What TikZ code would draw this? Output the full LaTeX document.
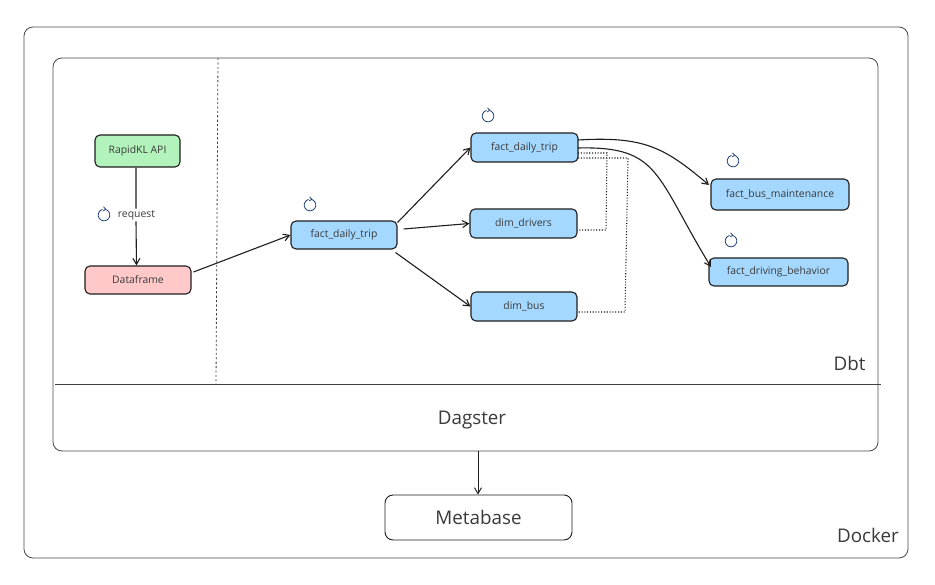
\documentclass[tikz,border=0pt]{standalone}
\usepackage{fontspec}
\setmainfont{Open Sans}
\usetikzlibrary{arrows.meta,calc}
\definecolor{ink}{HTML}{1E1E1E}
\definecolor{txt}{HTML}{3A3A3A}
\definecolor{loopc}{HTML}{1E3F78}
\tikzset{
  frame/.style={draw=ink!80,line width=0.8pt,rounded corners=9pt,fill=none},
  boxn/.style={draw=ink,line width=1.1pt,rounded corners=5pt,inner sep=0pt,text=txt,font=\fontsize{10.4}{11}\selectfont,anchor=center},
  greenb/.style={boxn,fill={rgb,255:red,178;green,242;blue,187}},
  pinkb/.style={boxn,fill={rgb,255:red,255;green,201;blue,201}},
  blueb/.style={boxn,fill={rgb,255:red,165;green,216;blue,255}},
  conn/.style={draw=ink,line width=1.1pt,-{Straight Barb[length=6pt,width=7pt]}},
  dotc/.style={draw=ink,line width=1.05pt,dash pattern=on 1.1pt off 1.7pt},
  bigt/.style={text=txt,font=\fontsize{18.8}{22}\selectfont,inner sep=0pt},
  loopn/.style={circle,minimum size=11.5pt,inner sep=0pt},
}
\newcommand{\looptick}[1]{%
  \draw[loopc,line width=0.8pt] ($(#1)+(1.5,-5.6)$) arc[start angle=75,end angle=-255,radius=5.8pt];
  \draw[loopc,line width=0.8pt,line cap=round] ($(#1)+(-0.3,-8)$) -- ($(#1)+(1.7,-5.7)$) -- ($(#1)+(-0.6,-4.2)$);}
\begin{document}
\begin{tikzpicture}[x=1pt,y=-1pt]
\useasboundingbox (0,0) rectangle (935,585);
\fill[white] (0,0) rectangle (935,585);
% frames
\node[frame,minimum width=884pt,minimum height=531pt,inner sep=0pt] (docker) at (466,292.5) {};
\node[frame,minimum width=825pt,minimum height=393pt,inner sep=0pt] (dbt) at (465.5,254.5) {};
\coordinate (sepL) at (55,384);
\coordinate (sepR) at (881,384);
\draw[ink!85,line width=0.8pt] (sepL) -- (sepR);
\coordinate (vT) at (218,58);
\coordinate (vB) at (216,384);
\draw[ink!85,line width=0.8pt,dash pattern=on 2.2pt off 2.2pt] (vT) -- (vB);
\node[bigt] (ldbt) at (849.5,363.5) {Dbt};
\node[bigt] (ldag) at (472,420) {Dagster};
\node[bigt] (ldock) at (868,535.5) {Docker};
\node[boxn,line width=0.9pt,minimum width=187pt,minimum height=45pt,font=\fontsize{18.8}{22}\selectfont,rounded corners=8pt] (meta) at (478.5,517.5) {Metabase};
% boxes
\node[greenb,minimum width=85pt,minimum height=32pt] (api) at (137.5,151) {RapidKL API};
\node[pinkb,minimum width=106pt,minimum height=28pt] (df) at (138,280) {Dataframe};
\node[blueb,minimum width=106pt,minimum height=28pt] (mid) at (344,235) {fact\_daily\_trip};
\node[blueb,minimum width=107pt,minimum height=29pt] (top) at (524.5,147.5) {fact\_daily\_trip};
\node[blueb,minimum width=107pt,minimum height=29pt] (drv) at (523.5,223.5) {dim\_drivers};
\node[blueb,minimum width=106pt,minimum height=29pt] (bus) at (524,306.5) {dim\_bus};
\node[blueb,minimum width=138pt,minimum height=31pt] (maint) at (780,194.5) {fact\_bus\_maintenance};
\node[blueb,minimum width=139pt,minimum height=28pt] (behav) at (778.5,272) {fact\_driving\_behavior};
% connectors
\node[fill=white,inner sep=1.5pt,text=txt,font=\fontsize{10.4}{11}\selectfont] (req) at (136.5,215) {request};
\draw[conn] (api.south) ++(-1.5,0) -- (req.north -| 136,204) (req.south -| 136,226) -- (df.north -| 136.5,263);
\draw[conn] (df.east) ++(2,-8) -- (mid.west);
\draw[conn] (mid.north east) ++(0,2) -- (top.west);
\draw[conn] (mid.east) ++(6,-6) -- (drv.west);
\draw[conn] (mid.south east) ++(-2,3) -- (bus.west);
\coordinate (t1) at (578,140);
\coordinate (t2) at (578,148);
\coordinate (t3) at (578,153);
\coordinate (t4) at (578,158);
\draw[conn] (t1) .. controls (645,136) and (665,148) .. (709,185);
\draw[conn] (t2) .. controls (660,146) and (655,175) .. (711,267);
\coordinate (d1) at (607,153);
\coordinate (d2) at (606,230);
\coordinate (b1) at (628,158);
\coordinate (b2) at (625,312);
\draw[dotc] (t3) -- (d1) -- (d2) -- (drv.east |- d2);
\draw[dotc] (t4) -- (b1) -- (b2) -- (bus.east |- b2);
% loop icons
\node[loopn] (l0) at (104,215) {};
\node[loopn] (l1) at (310,205) {};
\node[loopn] (l2) at (488,116) {};
\node[loopn] (l3) at (733,161) {};
\node[loopn] (l4) at (731,241) {};
\looptick{l0}\looptick{l1}\looptick{l2}\looptick{l3}\looptick{l4}
\draw[conn,line width=0.9pt] (dbt.south -| 478,453) -- (meta.north -| 478,495);
\end{tikzpicture}
\end{document}
